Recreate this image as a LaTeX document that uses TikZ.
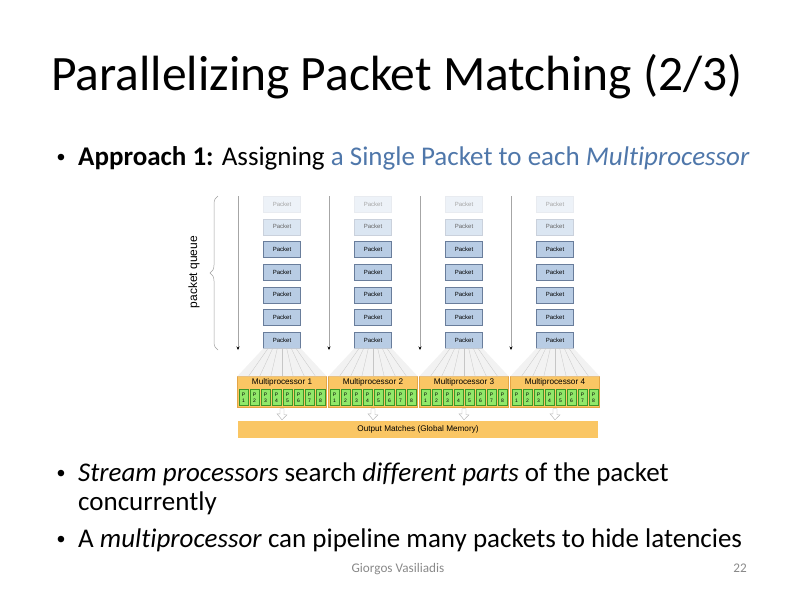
\documentclass[tikz,border=0pt]{standalone}
\usepackage{fontspec}
\setmainfont{Carlito}[Ligatures=NoCommon]
\newfontfamily\arialfont{Liberation Sans}
\usetikzlibrary{arrows.meta, positioning, calc, decorations.pathreplacing}
\definecolor{slideblue}{RGB}{79,119,170}
\definecolor{pktfill}{RGB}{184,204,228}
\definecolor{pktline}{RGB}{105,125,155}
\definecolor{mporange}{RGB}{250,198,100}
\definecolor{mpline}{RGB}{228,165,70}
\definecolor{pegreen}{RGB}{145,232,105}
\definecolor{peline}{RGB}{60,150,40}
\definecolor{footgray}{RGB}{137,137,137}
\tikzset{
  pkt/.style={rectangle, draw=pktline, fill=pktfill,
    minimum width=37pt, minimum height=16pt, inner sep=0pt,
    font=\arialfont\fontsize{6}{6}\selectfont},
  pktL/.style={pkt, draw=pktline!35, fill=pktfill!50, text=black!60},
  pktF/.style={pkt, draw=pktline!15, fill=pktfill!25, text=black!35},
  mpx/.style={rectangle, draw=mpline, fill=mporange,
    minimum width=89pt, minimum height=31pt, inner sep=0pt},
  pe/.style={rectangle, draw=peline, fill=pegreen,
    minimum width=8.5pt, minimum height=16pt, inner sep=0pt,
    align=center, font=\arialfont\fontsize{5}{6}\selectfont},
  arrQ/.style={-{Stealth[length=3.5pt,width=3pt,black]},
    draw=gray!70, line width=0.5pt},
  fan/.style={fill=gray!10, draw=none},
  fanln/.style={draw=gray!45, line width=0.3pt},
  outarr/.style={draw=gray!60, fill=white, line width=0.4pt},
  bul/.style={anchor=base west, inner sep=0pt,
    font=\fontsize{27}{29}\selectfont},
  dot/.style={anchor=base, inner sep=0pt,
    font=\arialfont\fontsize{24}{29}\selectfont},
}

\begin{document}
\begin{tikzpicture}[x=1pt, y=-1pt]
  \useasboundingbox (0,0) rectangle (794,595);

  % ---- Title and text ----
  \node[anchor=base, inner sep=0pt, font=\fontsize{49.5}{50}\selectfont]
       (title) at (397,90) {Parallelizing Packet Matching (2/3)};
  \node[dot] (d1) at (61,165) {•};
  \node[bul] (b1) at (78,165) {\textbf{Approach 1:} Assigning
       \textcolor{slideblue}{a Single Packet to each \textit{Multiprocessor}}};
  \node[dot] (d2) at (61,481) {•};
  \node[bul] (b2) at (78,481)
       {\textit{Stream processors} search \textit{different parts} of the packet};
  \node[bul] (b2b) at (78,510) {concurrently};
  \node[dot] (d3) at (61,547) {•};
  \node[bul] (b3) at (78,547)
       {A \textit{multiprocessor} can pipeline many packets to hide latencies};
  \node[anchor=base, inner sep=0pt, text=footgray,
        font=\fontsize{13.2}{13}\selectfont] (auth) at (398,572) {Giorgos Vasiliadis};
  \node[anchor=base east, inner sep=0pt, text=footgray,
        font=\fontsize{13.2}{13}\selectfont] (pg) at (747,572) {22};

  % ---- Packet queue ----
  \coordinate (bqb) at (218,350);
  \coordinate (bqt) at (218,196);
  \draw[decorate, decoration={brace, amplitude=8pt}, draw=gray!75,
        line width=0.5pt] (bqb) -- (bqt);
  \node[rotate=90, font=\arialfont\fontsize{12}{12}\selectfont]
       (qlab) at (194,272) {packet queue};

  % ---- Columns ----
  \foreach \c in {1,...,4} {
    \pgfmathsetmacro{\xc}{282+91*(\c-1)}
    \coordinate (qt\c) at (\xc-44,196);
    \coordinate (qb\c) at (\xc-44,350);
    \draw[arrQ] (qt\c) -- (qb\c);
    \node[pktF] (p\c-1) at (\xc,204) {Packet};
    \node[pktL] (p\c-2) at (\xc,226.7) {Packet};
    \foreach \r in {3,...,7}
      \node[pkt] (p\c-\r) at (\xc,{204+22.7*(\r-1)}) {Packet};
    \node[mpx] (mp\c) at (\xc,392) {};
    \node[inner sep=0pt, font=\arialfont\fontsize{8.2}{8}\selectfont,
          below=2pt of mp\c.north] (mpt\c) {Multiprocessor \c};
    \foreach \k in {1,...,8}
      \node[pe] (pe\c-\k) at (\xc-38.5+11*\k-11,397.5) {P\\\k};
    \fill[fan] (p\c-7.south west) -- (p\c-7.south east)
         -- (mp\c.north east) -- (mp\c.north west) -- cycle;
    \foreach \t in {1,...,7}
      \draw[fanln] ($(p\c-7.south west)!\t/8!(p\c-7.south east)$)
           -- ($(mp\c.north west)!\t/8!(mp\c.north east)$);
  }

  % ---- Output ----
  \node[rectangle, fill=mporange, minimum width=360pt, minimum height=17pt,
        inner sep=0pt, font=\arialfont\fontsize{8.2}{8}\selectfont]
       (out) at (418,429.5) {Output Matches (Global Memory)};
  \foreach \c in {1,...,4}
    \draw[outarr] ($(mp\c.south)+(-2,1)$) -- ++(4,0) -- ++(0,6) -- ++(3,0)
         -- ($(mp\c.south |- out.north)+(0,-1)$) -- ++(-5,-6) -- ++(3,0) -- cycle;
\end{tikzpicture}
\end{document}
